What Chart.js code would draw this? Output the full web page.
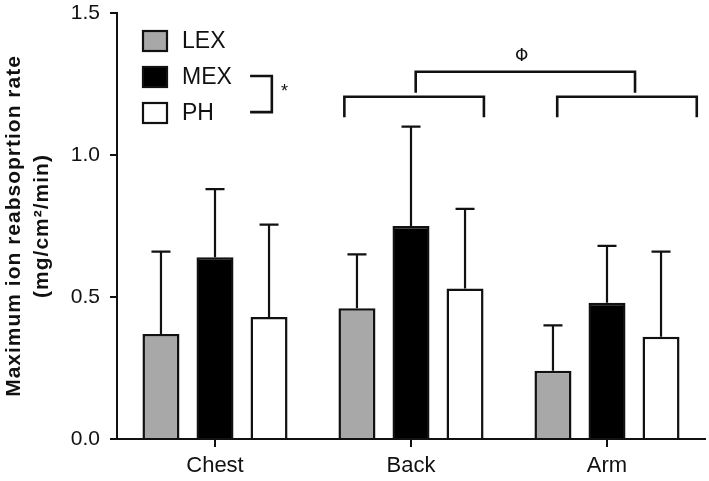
<!DOCTYPE html>
<html>
<head>
<meta charset="utf-8">
<script src="https://cdn.jsdelivr.net/npm/chart.js@4.4.1/dist/chart.umd.min.js"></script>
<style>
html,body{margin:0;padding:0;background:#fff;}
#wrap{width:709px;height:481px;position:relative;}
</style>
</head>
<body>
<div id="wrap"><canvas id="c" width="709" height="481"></canvas></div>
<script>
const categories = ["Chest", "Back", "Arm"];
const seriesNames = ["LEX", "MEX", "PH"];
const lexMean = [0.37, 0.46, 0.24];
const lexSD   = [0.29, 0.19, 0.16];
const mexMean = [0.64, 0.75, 0.48];
const mexSD   = [0.24, 0.35, 0.20];
const phMean  = [0.43, 0.53, 0.36];
const phSD    = [0.325, 0.28, 0.30];
const yTicks  = [0.0, 0.5, 1.0, 1.5];
const yTitleLines = ["Maximum ion reabsoprtion rate", "(mg/cm\u00B2/min)"];
const fills = ["#a8a8a8", "#000000", "#ffffff"];

const FONT = "'Liberation Sans', Arial, Helvetica, sans-serif";
const INK = "#111";

const errorBars = {
  id: 'errorBars',
  afterDatasetsDraw(chart) {
    const ctx = chart.ctx;
    const y = chart.scales.y;
    ctx.save();
    ctx.strokeStyle = INK;
    ctx.lineWidth = 2.2;
    chart.data.datasets.forEach((ds, di) => {
      const meta = chart.getDatasetMeta(di);
      meta.data.forEach((bar, i) => {
        const top = y.getPixelForValue(ds.data[i] + ds.sd[i]);
        const x = bar.x;
        ctx.beginPath();
        ctx.moveTo(x, bar.y);
        ctx.lineTo(x, top);
        ctx.moveTo(x - 9.5, top);
        ctx.lineTo(x + 9.5, top);
        ctx.stroke();
      });
    });
    ctx.restore();
  }
};

const annotations = {
  id: 'annotations',
  afterDraw(chart) {
    const ctx = chart.ctx;
    const xs = chart.scales.x, ys = chart.scales.y;
    const X = v => xs.getPixelForValue(v);
    const Y = v => ys.getPixelForValue(v);
    ctx.save();
    // y title
    ctx.fillStyle = INK;
    ctx.font = "bold 21px " + FONT;
    try { ctx.letterSpacing = '1px'; } catch(e) {}
    const cy = (chart.chartArea.top + chart.chartArea.bottom) / 2;
    const lineX = [14, 42];
    yTitleLines.forEach((t, k) => {
      ctx.save();
      ctx.translate(lineX[k], cy);
      ctx.rotate(-Math.PI / 2);
      ctx.textAlign = 'center';
      ctx.textBaseline = 'middle';
      ctx.fillText(t, 0, 0);
      ctx.restore();
    });
    try { ctx.letterSpacing = '0px'; } catch(e) {}

    // legend
    ctx.font = "23px " + FONT;
    ctx.textAlign = 'left';
    ctx.textBaseline = 'middle';
    const rowY = [41, 77, 113];
    chart.data.datasets.forEach((ds, i) => {
      const yy = rowY[i];
      ctx.fillStyle = ds.backgroundColor;
      ctx.fillRect(143, yy - 10, 24, 20);
      ctx.strokeStyle = INK;
      ctx.lineWidth = 2.2;
      ctx.strokeRect(143, yy - 10, 24, 20);
      ctx.fillStyle = INK;
      ctx.fillText(ds.label, 182, yy + 1);
    });

    // brackets
    ctx.strokeStyle = INK;
    ctx.lineWidth = 2.6;
    ctx.lineJoin = 'miter';
    const bracketDown = (x1, x2, yTop, yEnd) => {
      ctx.beginPath();
      ctx.moveTo(X(x1), Y(yEnd));
      ctx.lineTo(X(x1), Y(yTop));
      ctx.lineTo(X(x2), Y(yTop));
      ctx.lineTo(X(x2), Y(yEnd));
      ctx.stroke();
    };
    bracketDown(1.024, 2.143, 1.293, 1.219);
    bracketDown(0.660, 1.372, 1.205, 1.133);
    bracketDown(1.746, 2.458, 1.205, 1.133);
    // star bracket
    ctx.beginPath();
    ctx.moveTo(X(0.179), Y(1.278));
    ctx.lineTo(X(0.290), Y(1.278));
    ctx.lineTo(X(0.290), Y(1.151));
    ctx.lineTo(X(0.179), Y(1.151));
    ctx.stroke();
    ctx.fillStyle = INK;
    ctx.textAlign = 'center';
    ctx.textBaseline = 'middle';
    ctx.font = "18px " + FONT;
    ctx.fillText("*", X(0.354), Y(1.222));
    ctx.font = "17px 'DejaVu Sans', " + FONT;
    ctx.fillText("\u03A6", X(1.565), Y(1.345));
    ctx.restore();
  }
};

const datasets = [
  { label: seriesNames[0], data: lexMean, sd: lexSD, backgroundColor: fills[0] },
  { label: seriesNames[1], data: mexMean, sd: mexSD, backgroundColor: fills[1] },
  { label: seriesNames[2], data: phMean,  sd: phSD,  backgroundColor: fills[2] }
].map(d => Object.assign(d, {
  borderColor: INK, borderWidth: 2.5, borderSkipped: 'start',
  categoryPercentage: 0.827, barPercentage: 0.685
}));

new Chart(document.getElementById('c'), {
  type: 'bar',
  data: { labels: categories, datasets },
  options: {
    responsive: false,
    animation: false,
    devicePixelRatio: 1,
    layout: { padding: { top: 13, right: 4, left: 0, bottom: 0 } },
    plugins: { legend: { display: false }, tooltip: { enabled: false } },
    scales: {
      x: {
        offset: true,
        grid: { offset: false, drawOnChartArea: false, drawTicks: true, tickLength: 8, color: INK, lineWidth: 2 },
        border: { display: true, color: INK, width: 2 },
        ticks: { color: INK, font: { family: FONT, size: 22 }, padding: 6 },
        afterFit(s) { s.height = 42; s.paddingLeft = 0; s.paddingRight = 0; }
      },
      y: {
        min: 0, max: 1.5,
        afterBuildTicks(s) { s.ticks = yTicks.map(v => ({ value: v })); },
        grid: { drawOnChartArea: false, drawTicks: true, tickLength: 7, color: INK, lineWidth: 2 },
        border: { display: true, color: INK, width: 2 },
        ticks: { color: INK, font: { family: FONT, size: 21 }, padding: 10,
                 callback: v => Number(v).toFixed(1) },
        afterFit(s) { s.width = 117; s.paddingTop = 0; s.paddingBottom = 0; }
      }
    }
  },
  plugins: [errorBars, annotations]
});
</script>
</body>
</html>
